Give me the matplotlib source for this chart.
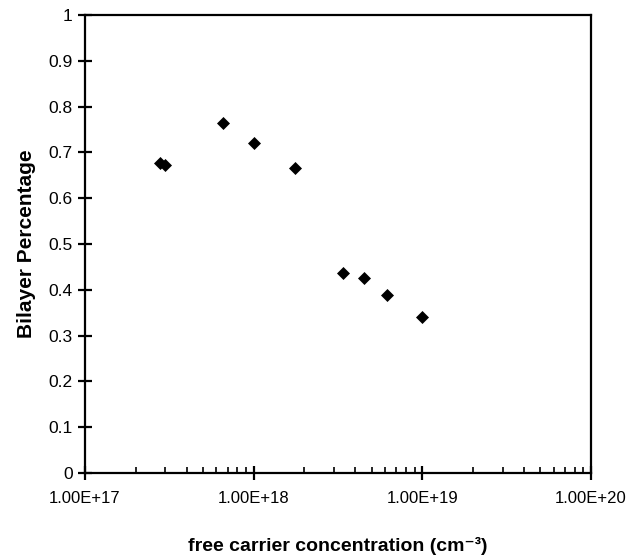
import matplotlib
matplotlib.use("Agg")
import matplotlib.pyplot as plt
from matplotlib.ticker import LogLocator, NullFormatter

plt.rcParams['font.family'] = ['Liberation Sans', 'DejaVu Sans']

carrier = [2.78e17, 2.97e17, 6.6e17, 1.01e18, 1.77e18, 3.37e18, 4.48e18, 6.2e18, 9.9e18]
bilayer = [0.676, 0.672, 0.764, 0.720, 0.666, 0.437, 0.426, 0.389, 0.341]
xtick_vals = [1e17, 1e18, 1e19, 1e20]
xtick_labels = ["1.00E+17", "1.00E+18", "1.00E+19", "1.00E+20"]
ytick_vals = [0, 0.1, 0.2, 0.3, 0.4, 0.5, 0.6, 0.7, 0.8, 0.9, 1]
ytick_labels = ["0", "0.1", "0.2", "0.3", "0.4", "0.5", "0.6", "0.7", "0.8", "0.9", "1"]

fig = plt.figure(figsize=(6.34, 5.56), dpi=100)
ax = fig.add_axes([85/634, 1-473/556, (591-85)/634, (473-15)/556])
ax.scatter(carrier, bilayer, marker='D', s=44, color='black', zorder=3, linewidths=0)
ax.set_xscale('log')
ax.set_xlim(1e17, 1e20)
ax.set_ylim(0, 1)
ax.set_xticks(xtick_vals)
ax.set_xticklabels(xtick_labels)
ax.xaxis.set_minor_locator(LogLocator(base=10, subs=range(2, 10)))
ax.xaxis.set_minor_formatter(NullFormatter())
ax.set_yticks(ytick_vals)
ax.set_yticklabels(ytick_labels)
for s in ax.spines.values():
    s.set_linewidth(1.6)
ax.tick_params(axis='y', which='major', direction='inout', length=10, width=1.6, labelsize=12.5, pad=4)
ax.tick_params(axis='x', which='major', direction='inout', length=10, width=1.6, labelsize=12, pad=8)
ax.tick_params(axis='x', which='minor', direction='in', length=4, width=1.2)
ax.set_xlabel("free carrier concentration (cm\u207b\u00b3)", fontsize=14, fontweight='bold', labelpad=22)
ax.set_ylabel("Bilayer Percentage", fontsize=15, fontweight='bold', labelpad=9)
fig.savefig("out.png", dpi=100)
